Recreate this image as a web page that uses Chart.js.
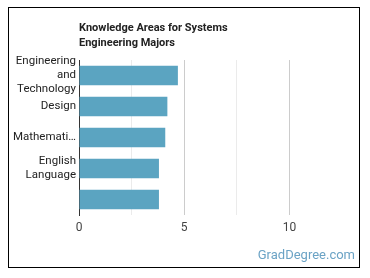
<!DOCTYPE html>
<html>
<head>
<meta charset="utf-8">
<script src="https://cdn.jsdelivr.net/npm/chart.js@4/dist/chart.umd.min.js"></script>
<style>
    body { margin: 0; background: #fff; }
    #wrap { position: relative; width: 370px; height: 278px; }
</style>
</head>
<body>
<div id="wrap"><canvas id="chart" width="370" height="278"></canvas></div>
<script>
// knowledge areas (as wrapped on the axis), last label is hidden in the original
const categories = [['Engineering', 'and', 'Technology'], 'Design', 'Mathemati…', ['English', 'Language'], '']
const scores = [4.7, 4.2, 4.1, 3.8, 3.8]
const titleLines = ['Knowledge Areas for Systems', 'Engineering Majors']
const tickLabels = [0, 5, 10]

const FONT = 'Roboto, "Open Sans", sans-serif'

const framePlugin = {
    id: 'frame',
    afterDraw(chart) {
        const ctx = chart.ctx
        const area = chart.chartArea
        ctx.save()
        ctx.strokeStyle = '#000'
        ctx.lineWidth = 1
        ctx.strokeRect(8.5, 7.5, 351, 260)

        ctx.fillStyle = '#222'
        ctx.font = `bold 11px ${FONT}`
        ctx.textBaseline = 'middle'
        ctx.textAlign = 'left'
        titleLines.forEach((line, i) => ctx.fillText(line, area.left, 28 + i * 15))

        ctx.fillStyle = '#6ba3c5'
        ctx.font = `13px ${FONT}`
        ctx.textAlign = 'right'
        ctx.fillText('GradDegree.com', 355, 256)
        ctx.restore()
    }
}

new Chart(document.getElementById('chart'), {
    type: 'bar',
    data: {
        labels: categories,
        datasets: [{
            data: scores,
            backgroundColor: '#5ba4c1',
            borderWidth: 0,
            categoryPercentage: 1,
            barPercentage: 0.63
        }]
    },
    options: {
        indexAxis: 'y',
        responsive: false,
        animation: false,
        layout: { padding: { top: 60, right: 28, left: 0, bottom: 0 } },
        plugins: {
            legend: { display: false },
            title: { display: false },
            tooltip: { enabled: false }
        },
        scales: {
            x: {
                min: 0,
                max: 12.5,
                afterBuildTicks: axis => {
                    axis.ticks = [0, 2.5, 5, 7.5, 10].map(v => ({ value: v }))
                },
                afterFit: axis => { axis.height = 63 },
                border: { display: false },
                grid: {
                    drawTicks: false,
                    color: c => (c.tick.value % 5 === 0 ? '#cccccc' : '#ebebeb')
                },
                ticks: {
                    padding: 6,
                    color: '#444',
                    font: { family: FONT, size: 12 },
                    callback: v => (tickLabels.includes(v) ? v : '')
                }
            },
            y: {
                afterFit: axis => { axis.width = 79 },
                border: { display: true, color: '#333', width: 1 },
                grid: { display: false, drawTicks: false },
                ticks: {
                    autoSkip: false,
                    padding: 3,
                    color: '#222',
                    font: { family: FONT, size: 11.5, lineHeight: 1.22 }
                }
            }
        }
    },
    plugins: [framePlugin]
})
</script>
</body>
</html>
